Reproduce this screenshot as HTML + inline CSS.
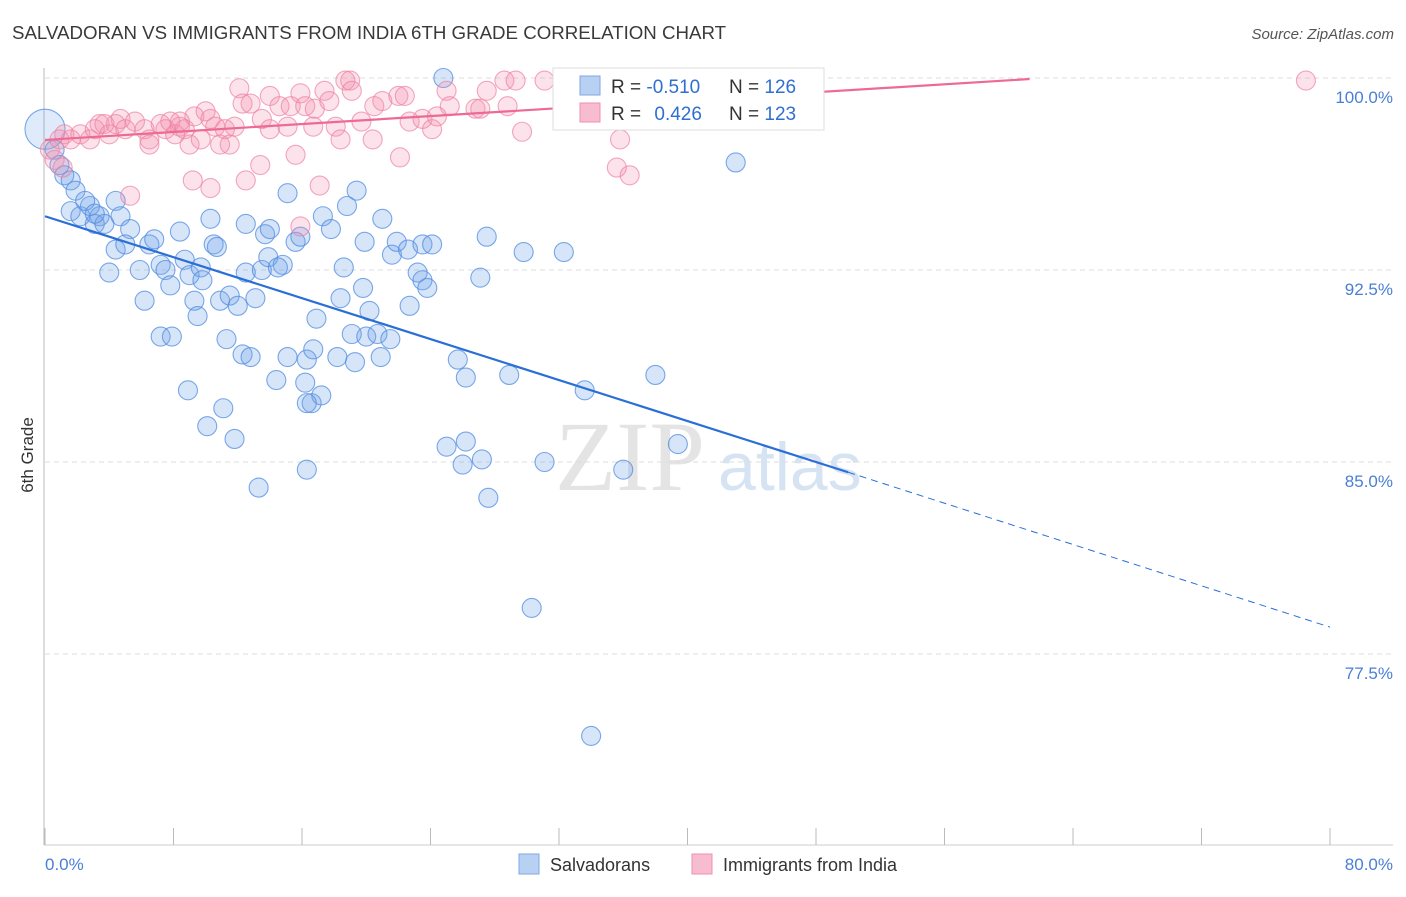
<!DOCTYPE html>
<html><head><meta charset="utf-8"><style>
body{margin:0;background:#fff;font-family:"Liberation Sans",sans-serif}
</style></head><body>
<svg id="chart" width="1406" height="892" xmlns="http://www.w3.org/2000/svg">
<text x="12" y="39" font-size="18.7" fill="#3a3a3a">SALVADORAN VS IMMIGRANTS FROM INDIA 6TH GRADE CORRELATION CHART</text>
<text x="1394" y="39" font-size="15" fill="#555" text-anchor="end" font-style="italic">Source: ZipAtlas.com</text>
<g><text x="555" y="490" font-size="100" fill="#e4e4e4" font-family="Liberation Serif">ZIP</text><text x="718" y="490" font-size="68" fill="#d6e3f3">atlas</text></g>
<g id="grid"></g><g id="axes"></g><g id="pts"></g><g id="lines"></g>
<text transform="translate(33,455) rotate(-90)" font-size="17" fill="#333" text-anchor="middle">6th Grade</text>
<text x="45" y="870" font-size="17" fill="#4a7fd4">0.0%</text>
<text x="1393" y="870" font-size="17" fill="#4a7fd4" text-anchor="end">80.0%</text>
<g>
<rect x="553" y="68" width="271" height="62" fill="#fff" stroke="#ddd"/>
<rect x="580" y="76" width="20" height="19" fill="#b8d1f3" stroke="#7ea7e6"/>
<rect x="580" y="103" width="20" height="19" fill="#f8bcd0" stroke="#ee8fad"/>
<text x="611" y="93" font-size="19" fill="#333">R = <tspan fill="#2e6fd0">-0.510</tspan></text>
<text x="729" y="93" font-size="19" fill="#333">N = <tspan fill="#2e6fd0">126</tspan></text>
<text x="611" y="120" font-size="19" fill="#333">R = <tspan fill="#2e6fd0" dx="8">0.426</tspan></text>
<text x="729" y="120" font-size="19" fill="#333">N = <tspan fill="#2e6fd0">123</tspan></text>
</g>
<g>
<rect x="519" y="854" width="20" height="20" fill="#b8d1f3" stroke="#7ea7e6"/>
<text x="550" y="871" font-size="18" fill="#333">Salvadorans</text>
<rect x="692" y="854" width="20" height="20" fill="#f8bcd0" stroke="#ee8fad"/>
<text x="723" y="871" font-size="18" fill="#333">Immigrants from India</text>
</g>
</svg>
<script>
const yTicks=[100,92.5,85,77.5];
const yTickLabels=["100.0%","92.5%","85.0%","77.5%"];
const xTicks=[0,8,16,24,32,40,48,56,64,72,80];
const blueX=[0.0,0.6,0.9,1.2,1.6,1.9,1.6,2.2,2.8,3.4,2.5,3.1,3.7,4.4,4.7,5.3,4.4,5.0,4.0,5.9,6.2,6.5,6.8,7.2,7.5,7.2,7.9,7.8,8.4,8.7,9.0,9.7,9.3,9.5,10.3,10.5,10.7,9.8,10.9,11.5,11.3,12.0,12.3,12.8,13.1,12.5,12.5,13.5,13.7,14.0,13.9,14.8,14.5,15.1,15.6,15.9,15.1,16.3,16.9,16.7,16.6,17.2,17.3,17.8,18.4,18.6,18.2,19.3,19.1,19.4,18.8,19.9,19.8,20.2,20.0,20.7,20.9,21.5,21.0,21.6,21.9,22.6,23.2,23.5,23.8,22.7,23.5,24.1,24.8,25.7,26.2,25.0,26.2,26.0,27.2,27.6,27.1,27.5,28.9,29.8,31.1,30.3,32.3,33.6,34.0,36.0,38.0,39.4,43.0,8.9,10.1,11.1,11.8,13.3,14.4,16.3,16.2,16.3,3.1];
const blueY=[98.0,97.2,96.6,96.2,96.0,95.6,94.8,94.6,95.0,94.6,95.2,94.3,94.3,95.2,94.6,94.1,93.3,93.5,92.4,92.5,91.3,93.5,93.7,92.7,92.5,89.9,89.9,91.9,94.0,92.9,92.3,92.6,91.3,90.7,94.5,93.5,93.4,92.1,91.3,91.5,89.8,91.1,89.2,89.1,91.4,94.3,92.4,92.5,93.9,94.1,93.0,92.7,92.6,95.5,93.6,93.8,89.1,89.0,90.6,89.4,87.3,87.6,94.6,94.1,91.4,92.6,89.1,88.9,90.0,95.6,95.0,93.6,91.8,90.9,89.9,90.0,89.1,89.8,94.5,93.1,93.6,93.3,92.4,92.1,91.8,91.1,93.5,93.5,100.0,89.0,88.3,85.6,85.8,84.9,85.1,83.6,92.2,93.8,88.4,93.2,85.0,79.3,93.2,87.8,74.3,84.7,88.4,85.7,96.7,87.8,86.4,87.1,85.9,84.0,88.2,84.7,88.1,87.3,94.7];
const pinkX=[0.3,0.6,0.9,1.2,1.6,2.2,2.8,3.1,3.4,4.0,4.4,4.7,5.0,5.6,6.2,6.5,7.2,7.5,7.8,8.1,8.4,8.7,9.0,9.3,9.7,10.0,10.3,10.6,10.9,11.2,11.5,11.8,12.1,12.3,12.8,12.5,13.4,13.5,14.0,14.0,14.6,15.3,15.1,15.6,15.9,15.9,16.2,16.8,17.1,16.7,17.4,17.7,18.1,18.4,18.7,19.0,19.1,19.7,20.4,20.5,21.0,22.0,22.1,22.4,22.7,23.5,24.1,24.4,25.0,25.2,26.8,27.1,27.5,28.6,28.8,29.3,29.7,31.1,5.3,10.3,9.2,35.8,35.6,36.4,78.5,3.7,6.5,8.4,1.1];
const pinkY=[97.2,96.8,97.6,97.8,97.6,97.8,97.6,98.0,98.2,97.8,98.2,98.4,98.0,98.3,98.0,97.6,98.2,98.0,98.3,97.8,98.1,98.0,97.4,98.5,97.6,98.7,98.4,98.1,97.4,98.0,97.4,98.1,99.6,99.0,99.0,96.0,96.6,98.4,98.0,99.3,98.9,98.9,98.1,97.0,94.2,99.4,98.9,98.8,95.8,98.1,99.5,99.1,98.1,97.6,99.9,99.9,99.5,98.3,97.6,98.9,99.1,99.3,96.9,99.3,98.3,98.4,98.0,98.5,99.5,98.9,98.8,98.8,99.5,99.9,98.9,99.9,97.9,99.9,95.4,95.7,96.0,97.6,96.5,96.2,99.9,98.2,97.4,98.3,96.5];
const blueTrendX=[0,50,80];
const blueTrendY=[94.6,84.6,78.55];
const pinkTrendX=[0,61.3];
const pinkTrendY=[97.58,99.96];
const X=v=>45+v*(1285/80);
const Y=v=>78+(100-v)*25.6;
const NS="http://www.w3.org/2000/svg";
function mk(tag,attrs,parent){const e=document.createElementNS(NS,tag);for(const k in attrs)e.setAttribute(k,attrs[k]);document.getElementById(parent).appendChild(e);return e;}
yTicks.forEach((t,i)=>{
  const l=mk('line',{x1:45,x2:1393,y1:Y(t),y2:Y(t),stroke:'#ddd','stroke-dasharray':'5,4'},'grid');
  
  
  const tx=mk('text',{x:1393,y:Y(t)+25,'font-size':17,fill:'#4a7fd4','text-anchor':'end'},'grid');
  tx.textContent=yTickLabels[i];
  
  
});
const ax=mk('line',{x1:44,x2:44,y1:68,y2:845,stroke:'#bbb'},'axes');


const bx=mk('line',{x1:44,x2:1393,y1:845,y2:845,stroke:'#ccc'},'axes');


xTicks.forEach(t=>{
  const l=mk('line',{x1:X(t),x2:X(t),y1:828,y2:845,stroke:'#bbb'},'axes');
  
  
});
blueX.forEach((v,i)=>{
  const c=mk('circle',{cx:X(v),cy:Y(blueY[i]),r:i===0?20:9.5,fill:i===0?'rgba(110,160,230,0.22)':'rgba(110,160,230,0.28)',stroke:'rgba(80,140,225,0.75)','stroke-width':1.1},'pts');
  
  
});
pinkX.forEach((v,i)=>{
  const c=mk('circle',{cx:X(v),cy:Y(pinkY[i]),r:9.5,fill:'rgba(245,140,170,0.25)',stroke:'rgba(238,130,165,0.7)','stroke-width':1.1},'pts');
  
  
});
const b1=mk('line',{x1:X(blueTrendX[0]),y1:Y(blueTrendY[0]),x2:X(blueTrendX[1]),y2:Y(blueTrendY[1]),stroke:'#2a6fd6','stroke-width':2.2},'lines');


const b2=mk('line',{x1:X(blueTrendX[1]),y1:Y(blueTrendY[1]),x2:X(blueTrendX[2]),y2:Y(blueTrendY[2]),stroke:'#2a6fd6','stroke-width':1,'stroke-dasharray':'7,5'},'lines');


const p1=mk('line',{x1:X(pinkTrendX[0]),y1:Y(pinkTrendY[0]),x2:X(pinkTrendX[1]),y2:Y(pinkTrendY[1]),stroke:'#ec6a93','stroke-width':2.2},'lines');


</script>
</body></html>
